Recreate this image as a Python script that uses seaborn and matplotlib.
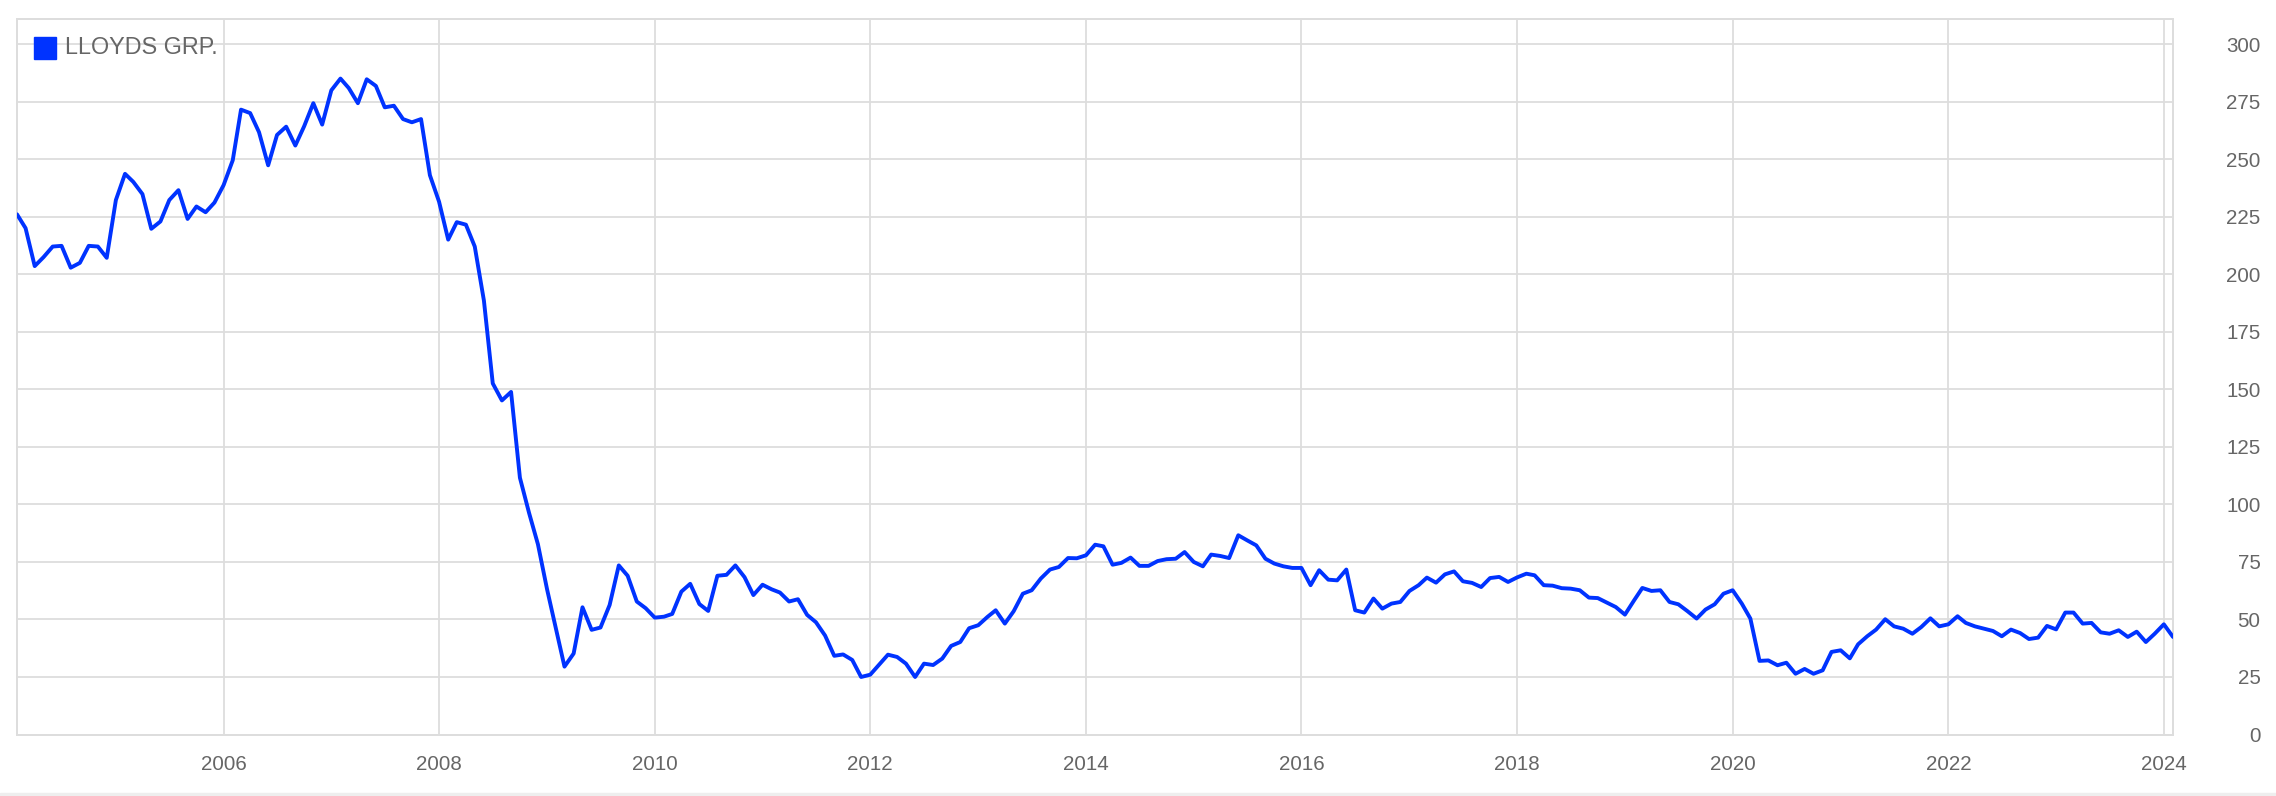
import matplotlib
matplotlib.use("Agg")
import matplotlib.pyplot as plt
import matplotlib.dates as mdates
from matplotlib.patches import Rectangle
import pandas as pd
import seaborn as sns

SERIES = "LLOYDS GRP."
FIRST_MONTH = "2004-02-01"

# monthly closes, Feb 2004 .. Feb 2024 (pence)
price = [
    226.1, 220.1, 203.6, 207.5, 212.1, 212.4, 202.9, 205.0, 212.4, 212.1, 207.2,
    232.3, 243.7, 240.2, 234.9, 219.8, 223.0, 232.3, 236.6, 224.1, 229.5, 227.0, 231.2,
    238.8, 249.6, 271.6, 270.1, 261.8, 247.4, 260.6, 264.2, 256.0, 264.4, 274.4, 265.1,
    280.0, 285.1, 281.0, 274.4, 284.8, 281.9, 272.6, 273.3, 267.5, 266.1, 267.5, 243.1,
    231.6, 215.1, 222.7, 221.6, 212.1, 188.6, 152.6, 145.2, 148.9, 111.6, 96.3, 82.7,
    63.1, 45.5, 29.5, 35.2, 55.3, 45.5, 46.5, 56.3, 73.5, 69.0, 57.8, 54.9,
    50.8, 51.2, 52.4, 62.1, 65.5, 56.7, 53.7, 69.0, 69.4, 73.5, 68.4, 60.6,
    65.1, 63.1, 61.7, 57.8, 58.8, 52.0, 48.8, 43.0, 34.2, 34.8, 32.4, 25.0,
    26.0, 30.5, 34.7, 33.7, 30.8, 25.0, 30.8, 30.2, 33.0, 38.5, 40.2, 46.2,
    47.5, 51.1, 54.0, 48.2, 53.6, 61.2, 62.7, 67.8, 71.7, 72.8, 76.7, 76.6,
    77.9, 82.5, 81.8, 73.8, 74.6, 76.9, 73.3, 73.3, 75.4, 76.2, 76.4, 79.3,
    75.0, 73.1, 78.2, 77.6, 76.7, 86.6, 84.4, 82.2, 76.4, 74.3, 73.1, 72.4,
    72.4, 64.9, 71.4, 67.3, 67.0, 71.7, 54.0, 53.0, 59.1, 54.7, 56.9, 57.6,
    62.4, 64.9, 68.2, 66.0, 69.6, 70.9, 66.6, 65.9, 64.1, 68.0, 68.5, 66.3,
    68.3, 69.9, 69.2, 64.9, 64.7, 63.6, 63.4, 62.7, 59.5, 59.3, 57.3, 55.4,
    52.1, 58.3, 63.7, 62.4, 62.7, 57.6, 56.6, 53.6, 50.4, 54.3, 56.6, 61.2,
    62.7, 56.9, 50.4, 32.0, 32.2, 30.1, 31.2, 26.4, 28.5, 26.4, 27.9, 35.9,
    36.6, 33.1, 39.2, 42.7, 45.6, 50.1, 47.0, 46.0, 43.8, 46.7, 50.5, 47.0,
    47.9, 51.4, 48.5, 47.0, 46.0, 45.0, 42.7, 45.6, 44.1, 41.5, 42.1, 47.2,
    45.7, 53.0, 53.0, 48.2, 48.5, 44.4, 43.8, 45.3, 42.4, 44.7, 40.2, 43.8,
    47.9, 42.4,
]
year_ticks = ["2006", "2008", "2010", "2012", "2014", "2016", "2018", "2020", "2022", "2024"]
price_ticks = [0, 25, 50, 75, 100, 125, 150, 175, 200, 225, 250, 275, 300]

dates = pd.date_range(FIRST_MONTH, periods=len(price), freq="MS")
df = pd.DataFrame({"date": dates, "price": price})

BLUE = "#0033ff"
GRID = "#dddddd"
TEXT = "#666666"

sns.set_style("white")
plt.rcParams["font.family"] = ["Liberation Sans", "DejaVu Sans"]

W, H = 2276, 796
fig = plt.figure(figsize=(W / 100, H / 100), dpi=100)
ax = fig.add_axes([17 / W, (H - 734.5) / H, (2173 - 17) / W, (734.5 - 19) / H])

sns.lineplot(data=df, x="date", y="price", ax=ax, color=BLUE, linewidth=2.8, zorder=3)

ax.set_xlim(dates[0], dates[-1])
ax.set_ylim(0, 311)
ax.set_xlabel("")
ax.set_ylabel("")

ax.set_xticks(pd.to_datetime([y + "-01-01" for y in year_ticks]))
ax.xaxis.set_major_formatter(mdates.DateFormatter("%Y"))
ax.set_yticks(price_ticks)
ax.yaxis.tick_right()
for lab in ax.get_yticklabels():
    lab.set_horizontalalignment("right")

ax.tick_params(axis="x", length=0, pad=15, labelsize=14.8, labelcolor=TEXT)
ax.tick_params(axis="y", length=0, pad=63, labelsize=14.8, labelcolor=TEXT,
               right=True, left=False, labelright=True, labelleft=False)

ax.grid(True, color=GRID, linewidth=1.3)
ax.set_axisbelow(True)
for s in ax.spines.values():
    s.set_visible(True)
    s.set_color(GRID)
    s.set_linewidth(1.4)

# legend: blue square + label, top-left inside the plot
fig.patches.append(Rectangle((34 / W, 1 - 59 / H), 22 / W, 22 / H,
                             transform=fig.transFigure, color=BLUE, zorder=5))
fig.text(65 / W, 1 - 48 / H, SERIES, color=TEXT, fontsize=16.8,
         ha="left", va="center", zorder=5)

# thin separator at the bottom of the widget
fig.patches.append(Rectangle((0, 0), 1, 3 / H, transform=fig.transFigure,
                             color="#eeeeee", zorder=0))

fig.savefig("out.png", dpi=100, facecolor="white")
